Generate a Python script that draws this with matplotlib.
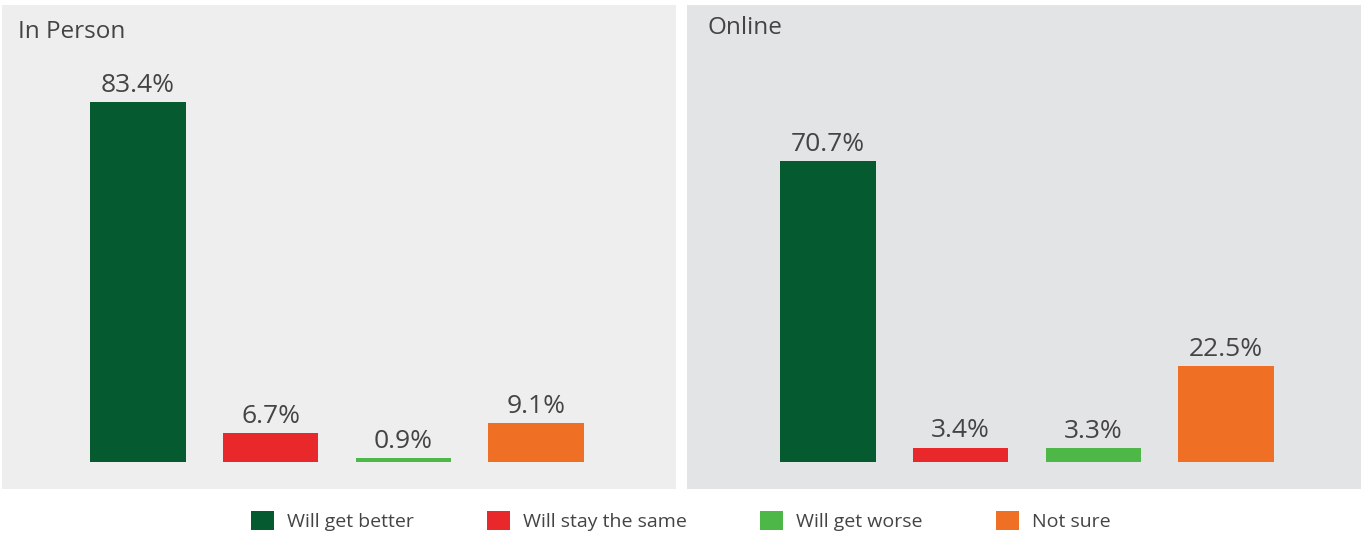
import matplotlib
matplotlib.use('Agg')
import matplotlib.pyplot as plt
from matplotlib.patches import Patch

plt.rcParams['font.family'] = ['Open Sans', 'DejaVu Sans']

# 数据
categories = ['Will get better', 'Will stay the same', 'Will get worse', 'Not sure']
colors = ['#065a2f', '#e8282b', '#4db848', '#ef6f25']
in_person = [83.4, 6.7, 0.9, 9.1]
online = [70.7, 3.4, 3.3, 22.5]
panels = ['In Person', 'Online']

W, H = 1361, 536
TEXT = '#444444'

fig = plt.figure(figsize=(W / 100, H / 100), dpi=100)


def px_axes(x0, y0, x1, y1):
    """按像素坐标(左上原点)创建坐标轴"""
    return fig.add_axes([x0 / W, 1 - y1 / H, (x1 - x0) / W, (y1 - y0) / H])


def draw_panel(ax, values, bg, xlim, ylim):
    ax.set_facecolor(bg)
    x = range(len(values))
    ax.bar(x, values, width=0.72, color=colors)
    for xi, v in zip(x, values):
        ax.annotate(f"{v}%", (xi, v), xytext=(0, 3), textcoords='offset points',
                    ha='center', va='bottom', fontsize=19, color=TEXT)
    ax.set_xlim(*xlim)
    ax.set_ylim(*ylim)
    ax.set_xticks([])
    ax.set_yticks([])
    for s in ax.spines.values():
        s.set_visible(False)


ax1 = px_axes(2, 5, 676, 489)
draw_panel(ax1, in_person, '#eeeeee', (-1.023, 4.053), (-6.25, 105.8))
ax2 = px_axes(687, 5, 1361, 489)
draw_panel(ax2, online, '#e3e4e6', (-1.06, 4.015), (-6.34, 107.3))

fig.text(18 / W, 1 - 32 / H, panels[0], ha='left', va='center', fontsize=17.5, color=TEXT)
fig.text(707 / W, 1 - 28 / H, panels[1], ha='left', va='center', fontsize=17.5, color=TEXT)

handles = [Patch(facecolor=c, edgecolor='none') for c in colors]
leg = fig.legend(handles, categories, loc='center', bbox_to_anchor=(681 / W, 1 - 521 / H),
                 ncol=4, frameon=False, fontsize=14, handlelength=1.18, handleheight=1.18,
                 handletextpad=0.67, columnspacing=3.76, borderaxespad=0)
for t in leg.get_texts():
    t.set_color(TEXT)

plt.savefig('out.png', dpi=100)
